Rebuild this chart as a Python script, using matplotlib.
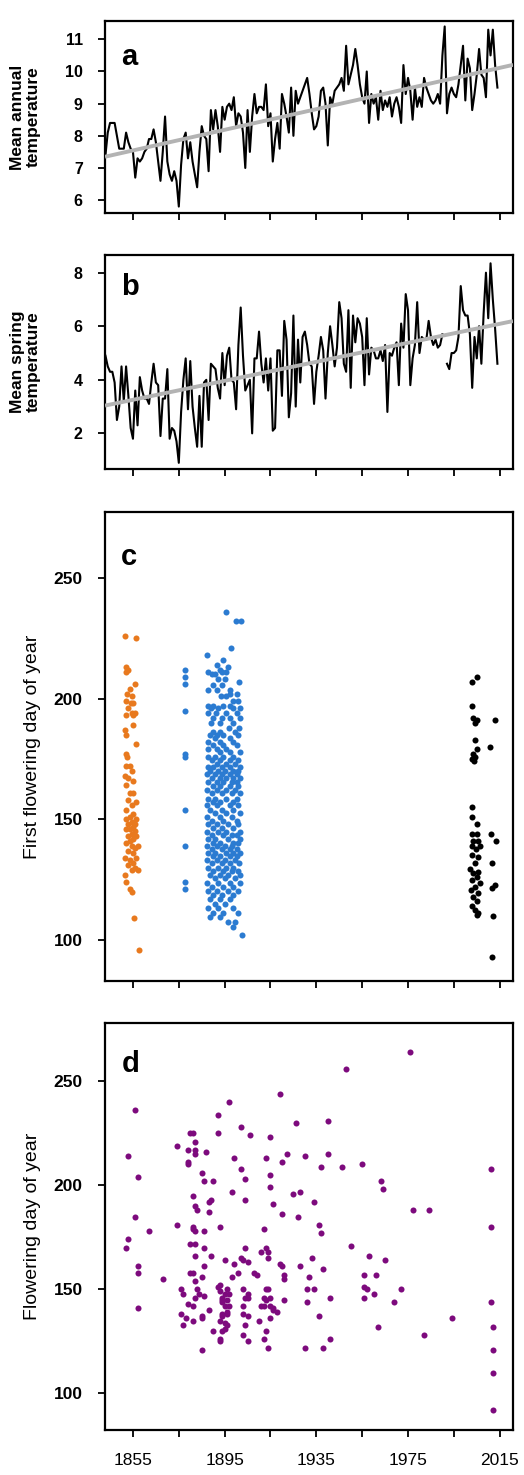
import numpy as np
import matplotlib
matplotlib.use("Agg")
import matplotlib.pyplot as plt

plt.rcParams['font.family'] = ['Liberation Sans', 'DejaVu Sans']

# ---- data ----
years = np.arange(1843, 2015)

annual_temp = [
    7.4, 8.1, 8.4, 8.4, 8.4, 8.0, 7.6, 7.6, 7.6, 8.1,
    7.8, 7.6, 7.5, 6.7, 7.3, 7.2, 7.3, 7.5, 7.6, 7.9,
    7.9, 8.2, 7.8, 7.2, 6.6, 7.5, 8.6, 7.2, 6.8, 6.6,
    6.9, 6.6, 5.8, 7.1, 7.9, 8.1, 7.3, 7.8, 7.2, 6.8,
    6.4, 7.5, 8.3, 8.0, 7.9, 6.9, 8.8, 8.2, 8.8, 8.3,
    7.5, 8.9, 8.5, 8.9, 9.0, 8.8, 9.2, 8.3, 8.7, 8.6,
    8.1, 7.0, 8.8, 7.5, 8.6, 9.3, 8.7, 8.9, 8.9, 8.8,
    9.6, 8.3, 8.7, 7.2, 7.9, 8.4, 7.6, 9.3, 9.0, 8.6,
    8.1, 9.5, 8.0, 9.4, 9.0, 9.2, 9.4, 9.6, 9.8, 9.3,
    8.7, 8.2, 8.3, 8.6, 9.4, 9.5, 9.0, 7.7, 9.2, 9.0,
    9.4, 9.5, 9.6, 9.8, 9.4, 10.8, 9.6, 9.9, 10.2, 10.7,
    10.2, 9.6, 9.2, 9.0, 10.0, 8.4, 9.3, 9.0, 9.2, 8.5,
    9.4, 8.8, 9.1, 8.9, 9.2, 8.6, 9.0, 9.2, 8.9, 8.4,
    10.2, 9.3, 9.8, 9.4, 8.5, 9.5, 8.9, 9.2, 8.9, 9.8,
    9.5, 9.3, 9.1, 9.0, 9.1, 9.3, 9.0, 10.5, 11.4, 8.7,
    9.3, 9.5, 9.3, 9.2, 9.6, 10.2, 10.8, 9.1, 10.4, 10.1,
    8.8, 9.3, 9.9, 10.7, 9.9, 9.8, 9.2, 11.3, 10.5, 11.3,
    10.2, 9.5,
]

spring_temp = [
    4.9, 4.5, 4.3, 4.3, 3.9, 2.5, 3.0, 4.5, 3.2, 4.5,
    3.4, 2.2, 1.8, 3.6, 2.3, 4.1, 3.6, 3.3, 3.3, 3.1,
    3.9, 4.6, 3.9, 3.8, 1.9, 3.3, 3.3, 4.4, 1.8, 2.2,
    2.1, 1.7, 0.9, 2.8, 4.0, 4.8, 2.9, 4.7, 3.0, 2.2,
    1.5, 3.4, 1.5, 3.9, 4.0, 2.5, 4.6, 4.5, 4.4, 3.7,
    3.3, 5.0, 3.8, 4.9, 5.2, 4.0, 3.9, 2.9, 5.3, 6.7,
    4.9, 3.6, 3.8, 4.0, 2.0, 4.8, 4.8, 5.8, 4.6, 3.9,
    4.8, 3.6, 4.8, 2.1, 2.2, 5.1, 5.1, 3.4, 6.2, 5.5,
    2.6, 3.5, 6.4, 3.0, 5.5, 3.9, 5.6, 5.8, 5.3, 4.6,
    4.5, 3.1, 4.3, 4.9, 5.6, 5.1, 3.3, 5.0, 6.0, 5.3,
    4.5, 5.2, 6.9, 6.3, 4.6, 4.3, 6.6, 3.7, 6.4, 5.4,
    6.3, 6.1, 5.6, 3.8, 6.3, 4.2, 5.2, 5.1, 4.8, 4.8,
    5.1, 4.7, 5.3, 2.8, 5.0, 4.9, 5.2, 5.4, 3.8, 6.1,
    5.2, 7.2, 6.6, 3.8, 4.8, 5.3, 6.9, 5.0, 5.6, 5.5,
    5.5, 6.2, 5.6, 5.3, 5.5, 5.2, 5.3, 5.7, np.nan, 4.6,
    4.4, 5.0, 5.0, 5.1, 5.6, 7.5, 6.6, 6.4, 6.4, 5.7,
    3.7, 5.6, 4.8, 6.0, 4.6, 6.5, 8.0, 6.3, 8.35, 7.0,
    5.9, 4.6,
]

# panel c: first flowering day per specimen (year, day)
orange_pts = [
    (1851.5, 226), (1856.5, 225), (1852, 213), (1853, 212), (1852, 211), (1856, 206),
    (1853.5, 204), (1852.5, 202), (1854.5, 201), (1852, 199), (1854, 198), (1855, 198),
    (1853, 196), (1854.5, 194), (1856, 194), (1852, 193), (1855, 193), (1855, 189),
    (1851.5, 187), (1852, 185), (1856.5, 181), (1852, 177), (1852.5, 176), (1853.5, 172),
    (1852, 172), (1854.5, 170), (1851.5, 168), (1853, 167), (1855, 166), (1852, 164),
    (1855, 161), (1853.5, 161), (1853, 158), (1856.5, 157), (1854.5, 156), (1852, 154),
    (1855, 152), (1853.5, 151), (1856.5, 150), (1852, 150), (1854.5, 149), (1856, 148),
    (1853, 148), (1855, 147), (1853.5, 146), (1852, 146), (1856, 145), (1854.5, 144),
    (1853, 143), (1856.5, 143), (1855, 142), (1853.5, 141), (1852, 140), (1857, 139),
    (1854.5, 139), (1856, 138), (1853, 137), (1855, 136), (1851.5, 134), (1856.5, 134),
    (1853.5, 133), (1855, 132), (1853, 131), (1857, 129), (1854.5, 129), (1856, 130),
    (1851.5, 127), (1852, 124), (1853.5, 121), (1854.5, 120), (1855.5, 109), (1857.5, 96),
]

blue_small_pts = [
    (1877.5, 212), (1877.5, 209), (1877.5, 206), (1877.5, 195), (1877.5, 177),
    (1877.5, 176), (1877.5, 154), (1877.5, 139), (1877.5, 124), (1877.5, 121),
]

blue_pts = [
    (1895.6, 236), (1899.8, 232), (1902.0, 232), (1897.6, 221), (1887.4, 218),
    (1894.1, 216), (1891.5, 214), (1896.5, 213), (1892.9, 212),
    (1887.8, 211), (1893.7, 211), (1895.8, 211), (1889.3, 210), (1890.8, 210),
    (1892.2, 208), (1895.1, 208), (1901.4, 207), (1890.0, 205.5), (1893.7, 205.5),
    (1887.8, 203.5), (1891.5, 203.5), (1897.3, 203.5), (1897.3, 202), (1900.2, 202),
    (1893.2, 201), (1895.6, 201), (1898.7, 199), (1900.9, 199),
    (1887.8, 197), (1890.0, 197), (1894.4, 197), (1897.3, 197),
    (1888.9, 196), (1892.2, 196), (1898.7, 196), (1901.7, 196),
    (1887.8, 194), (1891.2, 194), (1895.8, 194), (1900.2, 194),
    (1890.0, 192), (1893.7, 192), (1897.3, 192), (1901.7, 192),
    (1888.9, 190), (1892.9, 190), (1898.7, 190), (1896.7, 188), (1901.4, 188),
    (1890.0, 186), (1892.9, 186), (1899.4, 186),
    (1888.6, 185), (1891.5, 185), (1894.4, 185), (1900.9, 185),
    (1890.8, 183.5), (1897.3, 183.5), (1887.8, 182), (1892.9, 182), (1898.7, 182),
    (1890.0, 180.7), (1894.1, 180.7), (1900.5, 180.7),
    (1887.8, 179), (1891.5, 179), (1895.8, 179), (1892.9, 178), (1897.3, 178), (1901.7, 178),
    (1887.8, 176), (1890.8, 176), (1894.4, 176), (1898.7, 176),
    (1889.3, 174.5), (1892.9, 174.5), (1897.3, 174.5), (1900.9, 174.5),
    (1891.5, 173), (1895.8, 173), (1899.4, 173),
    (1887.8, 171.5), (1890.0, 171.5), (1893.7, 171.5), (1897.3, 171.5), (1901.7, 171.5),
    (1888.6, 170), (1892.2, 170), (1895.1, 170), (1898.7, 170), (1900.9, 170),
    (1887.1, 168.7), (1890.8, 168.7), (1893.7, 168.7), (1897.3, 168.7), (1900.2, 168.7),
    (1889.3, 167), (1892.9, 167), (1895.8, 167), (1898.7, 167), (1901.7, 167),
    (1887.8, 165.5), (1891.5, 165.5), (1894.4, 165.5), (1898.0, 165.5), (1900.5, 165.5),
    (1890.0, 163.7), (1892.9, 163.7), (1897.3, 163.7), (1900.9, 163.7),
    (1887.1, 162), (1891.5, 162), (1895.8, 162), (1899.4, 162),
    (1889.3, 160.7), (1893.7, 160.7), (1898.0, 160.7), (1901.7, 160.7),
    (1887.8, 158.6), (1890.8, 158.6), (1895.8, 158.6), (1900.2, 158.6),
    (1890.0, 157.2), (1892.9, 157.2), (1898.7, 157.2),
    (1887.1, 155.9), (1891.5, 155.9), (1897.3, 155.9), (1900.9, 155.9),
    (1888.6, 153.8), (1893.7, 153.8), (1898.7, 153.8),
    (1890.8, 152.4), (1895.8, 152.4), (1901.7, 152.4),
    (1887.1, 151), (1892.9, 151), (1898.0, 151),
    (1889.3, 149.4), (1894.4, 149.4), (1900.2, 149.4),
    (1887.8, 148), (1891.5, 148), (1896.5, 148), (1900.9, 148),
    (1890.0, 146.2), (1893.7, 146.2), (1898.7, 146.2),
    (1887.1, 144.8), (1892.2, 144.8), (1895.8, 144.8), (1901.7, 144.8),
    (1889.3, 143.4), (1894.4, 143.4), (1898.0, 143.4), (1900.2, 143.4),
    (1887.8, 142), (1890.8, 142), (1896.5, 142), (1901.7, 142),
    (1890.0, 140.3), (1892.9, 140.3), (1898.7, 140.3), (1900.9, 140.3),
    (1887.1, 138.9), (1891.5, 138.9), (1895.1, 138.9), (1898.0, 138.9),
    (1889.3, 137.5), (1893.7, 137.5), (1897.3, 137.5), (1900.2, 137.5),
    (1887.8, 136.1), (1890.8, 136.1), (1895.8, 136.1), (1898.7, 136.1), (1901.7, 136.1),
    (1890.0, 134.7), (1892.9, 134.7), (1897.3, 134.7), (1900.5, 134.7),
    (1887.1, 133.1), (1891.5, 133.1), (1895.1, 133.1), (1899.4, 133.1),
    (1889.3, 131.7), (1893.7, 131.7), (1897.3, 131.7), (1901.4, 131.7),
    (1887.8, 130), (1892.2, 130), (1895.8, 130), (1898.7, 130),
    (1890.0, 128.7), (1894.4, 128.7), (1898.0, 128.7), (1900.9, 128.7),
    (1888.6, 126.9), (1892.9, 126.9), (1896.5, 126.9), (1901.7, 126.9),
    (1890.8, 125.5), (1895.1, 125.5), (1899.4, 125.5),
    (1887.1, 123.7), (1892.2, 123.7), (1897.3, 123.7), (1901.7, 123.7),
    (1889.3, 122), (1894.4, 122), (1898.7, 122),
    (1887.8, 120.4), (1891.5, 120.4), (1896.5, 120.4), (1900.9, 120.4),
    (1890.0, 118.6), (1893.7, 118.6), (1898.7, 118.6),
    (1888.6, 116.8), (1892.9, 116.8), (1897.3, 116.8),
    (1890.8, 114.9), (1895.1, 114.9), (1887.8, 113.1), (1892.2, 113.1), (1898.7, 113.1),
    (1890.0, 111.3), (1894.4, 111.3), (1900.9, 111.3), (1888.6, 109.6), (1892.9, 109.6),
    (1896.5, 107.6), (1899.4, 107.6), (1898.7, 105.5), (1902.4, 102),
]

black_pts = [
    (2005.1, 209), (2002.7, 207), (2002.7, 197), (2003.4, 192), (2004.9, 191),
    (2004.1, 190), (2013.1, 191), (2004.1, 183), (2010.7, 180), (2004.9, 179),
    (2003.4, 177), (2004.1, 176), (2002.9, 175), (2003.6, 174), (2002.7, 155),
    (2002.7, 151), (2004.9, 148), (2002.7, 144), (2004.9, 144), (2011.0, 144),
    (2013.3, 141), (2003.4, 141), (2005.6, 141), (2002.7, 139), (2004.7, 137.5),
    (2006.3, 139), (2011.8, 132), (2002.7, 135), (2005.6, 134.5), (2004.1, 132),
    (2002.0, 129.6), (2005.6, 128.3), (2003.4, 127.6), (2004.9, 126.2), (2002.7, 124.8),
    (2006.3, 123.4), (2004.1, 122), (2002.3, 120.7), (2005.6, 119.3), (2003.4, 118),
    (2004.9, 116), (2002.7, 114), (2004.1, 112.4), (2005.6, 111), (2004.9, 110.3),
    (2013.1, 122.7), (2011.8, 121.4), (2012.1, 110), (2011.8, 93),
]

# panel d: flowering day per record (year, day)
purple_pts = [
    (1852, 170), (1853, 174), (1853, 214), (1856, 236), (1856, 185), (1857, 204),
    (1857, 161), (1857, 158), (1857, 141), (1862, 178), (1868, 155), (1874, 219),
    (1874, 181), (1876, 150), (1877, 148), (1877, 133), (1876, 138), (1879, 217),
    (1879, 211), (1879, 210), (1880, 225), (1881, 225), (1882, 221), (1882, 217),
    (1882, 215), (1881, 195), (1882, 190), (1883, 188), (1881, 180), (1881, 179),
    (1882, 178), (1880, 172), (1882, 172), (1882, 166), (1880, 158), (1881, 158),
    (1882, 154), (1883, 150), (1882, 146), (1884, 148), (1879, 143), (1881, 142),
    (1878, 136), (1881, 135), (1885, 206), (1886, 202), (1886, 178), (1886, 170),
    (1886, 161), (1885, 156), (1885, 137), (1885, 136), (1885, 121), (1887, 216),
    (1888, 187), (1888, 192), (1889, 193), (1889, 166), (1888, 140), (1890, 130),
    (1890, 202), (1886, 147), (1892, 225), (1892, 234), (1893, 180), (1892, 151),
    (1893, 152), (1893, 149), (1894, 146), (1894, 145), (1895, 148), (1894, 144),
    (1895, 142), (1896, 139), (1894, 138), (1894, 137), (1893, 135), (1895, 134),
    (1896, 133), (1894, 130), (1895, 131), (1893, 126), (1893, 125), (1896, 150),
    (1897, 148), (1896, 145), (1897, 142), (1896, 138), (1895, 164), (1897, 240),
    (1898, 197), (1899, 162), (1898, 156), (1899, 213), (1902, 228), (1902, 208),
    (1904, 203), (1904, 193), (1902, 165), (1903, 164), (1904, 170), (1901, 158),
    (1903, 150), (1905, 148), (1904, 146), (1905, 146), (1903, 142), (1905, 137),
    (1903, 138), (1904, 133), (1903, 128), (1906, 224), (1905, 163), (1905, 125),
    (1908, 158), (1909, 157), (1910, 135), (1912, 179), (1912, 126), (1913, 130),
    (1913, 170), (1911, 168), (1914, 168), (1913, 150), (1914, 150), (1912, 146),
    (1913, 145), (1915, 146), (1911, 142), (1912, 142), (1915, 142), (1916, 141),
    (1914, 165), (1915, 223), (1915, 205), (1915, 199), (1913, 213), (1915, 136),
    (1914, 122), (1916, 140), (1918, 139), (1919, 244), (1920, 211), (1920, 186),
    (1919, 162), (1920, 161), (1921, 157), (1921, 155), (1921, 145), (1916, 191),
    (1922, 215), (1925, 196), (1926, 230), (1928, 197), (1927, 185), (1928, 161),
    (1930, 214), (1931, 150), (1931, 144), (1934, 150), (1930, 122), (1933, 165),
    (1934, 192), (1932, 156), (1936, 181), (1937, 177), (1937, 209), (1936, 137),
    (1938, 160), (1940, 231), (1940, 215), (1938, 122), (1941, 126), (1941, 146),
    (1946, 209), (1948, 256), (1950, 171), (1955, 210), (1956, 157), (1956, 151),
    (1957, 150), (1956, 146), (1958, 166), (1960, 148), (1961, 157), (1962, 132),
    (1963, 202), (1964, 198), (1965, 164), (1969, 144), (1972, 150), (1976, 264),
    (1977, 188), (1984, 188), (1982, 128), (1994, 136), (2011, 208), (2011, 180),
    (2011, 144), (2012, 132), (2012, 121), (2012, 110), (2012, 92),
]

xticks = np.arange(1855, 2016, 20)
xlim = (1842.8, 2020.8)

# ---- figure ----
W, H = 524, 1475
fig = plt.figure(figsize=(W / 100, H / 100), dpi=100)


def px_axes(top, bottom, left=105, right=513):
    return fig.add_axes([left / W, 1 - bottom / H, (right - left) / W, (bottom - top) / H])


def style(ax, ylim, yticks, ysize):
    ax.set_xlim(*xlim)
    ax.set_ylim(*ylim)
    ax.set_xticks(xticks)
    ax.set_yticks(yticks)
    for s in ax.spines.values():
        s.set_linewidth(1.6)
    ax.tick_params(direction='out', length=5, width=1.3)
    ax.tick_params(axis='y', labelsize=ysize, pad=11)
    ax.tick_params(axis='x', pad=11.5)
    for t in ax.get_yticklabels():
        t.set_fontweight('bold')


def trend(ax, y):
    y = np.asarray(y, dtype=float)
    ok = ~np.isnan(y)
    b, a = np.polyfit(years[ok], y[ok], 1)
    xs = np.array(xlim)
    ax.plot(xs, a + b * xs, color='#b3b3b3', lw=2.8, zorder=3, solid_capstyle='butt')


def letter(ax, s, yfrac):
    ax.text(0.04, yfrac, s, transform=ax.transAxes, fontsize=21, fontweight='bold',
            ha='left', va='center')


def side_label(ax, s):
    lab = ax.set_ylabel(s, fontsize=14)
    lab.set_verticalalignment('center')
    ax.yaxis.set_label_coords((32.5 - 105) / 408, 0.5)


# a
ax_a = px_axes(21, 213)
ax_a.plot(years, annual_temp, color='black', lw=1.5, zorder=2)
trend(ax_a, annual_temp)
style(ax_a, (5.6, 11.57), [6, 7, 8, 9, 10, 11], 11.5)
ax_a.set_xticklabels([])
letter(ax_a, 'a', 0.81)
fig.text(25 / W, 1 - 117 / H, 'Mean annual\ntemperature', rotation=90, ha='center',
         va='center', fontsize=12.5, fontweight='bold', linespacing=1.05)

# b
ax_b = px_axes(255, 469)
ax_b.plot(years, spring_temp, color='black', lw=1.5, zorder=2)
trend(ax_b, spring_temp)
style(ax_b, (0.67, 8.66), [2, 4, 6, 8], 11.5)
ax_b.set_xticklabels([])
letter(ax_b, 'b', 0.85)
fig.text(25 / W, 1 - 362 / H, 'Mean spring\ntemperature', rotation=90, ha='center',
         va='center', fontsize=12.5, fontweight='bold', linespacing=1.05)

# c
ax_c = px_axes(512, 981)
for pts, col in [(orange_pts, '#e8791e'), (blue_small_pts, '#2b7bd1'),
                 (blue_pts, '#2b7bd1'), (black_pts, 'black')]:
    xs, ys = zip(*pts)
    ax_c.scatter(xs, ys, s=19, color=col, linewidths=0, zorder=3)
style(ax_c, (83, 277.3), [100, 150, 200, 250], 12.5)
ax_c.set_xticklabels([])
letter(ax_c, 'c', 0.905)
side_label(ax_c, 'First flowering day of year')

# d
ax_d = px_axes(1023, 1430)
xs, ys = zip(*purple_pts)
ax_d.scatter(xs, ys, s=19, color='#7d0a7d', linewidths=0, zorder=3)
style(ax_d, (82.4, 278), [100, 150, 200, 250], 12.5)
ax_d.set_xticklabels([str(v) if i % 2 == 0 else '' for i, v in enumerate(xticks)],
                     fontsize=12.5)
letter(ax_d, 'd', 0.9)
side_label(ax_d, 'Flowering day of year')

fig.savefig('out.png', dpi=100)
